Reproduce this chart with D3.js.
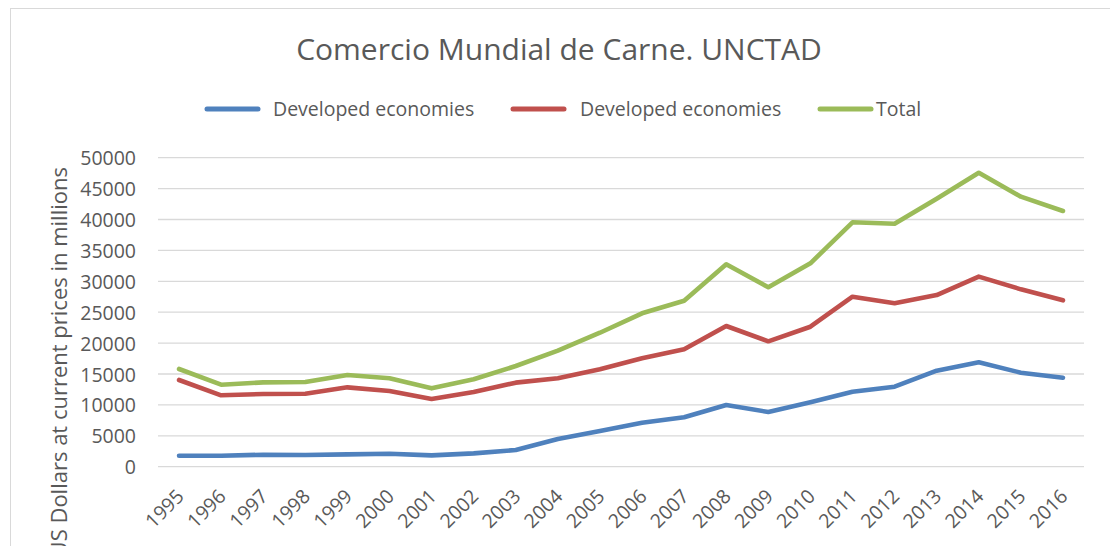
<!DOCTYPE html>
<html>
<head>
<meta charset="utf-8">
<script src="https://cdn.jsdelivr.net/npm/d3@7"></script>
<style>
  body { margin: 0; background: #fff; }
  text { font-family: "Open Sans", sans-serif; fill: #595959; }
</style>
</head>
<body>
<div id="chart"></div>
<script>
var years = ["1995", "1996", "1997", "1998", "1999", "2000", "2001", "2002", "2003", "2004", "2005",
             "2006", "2007", "2008", "2009", "2010", "2011", "2012", "2013", "2014", "2015", "2016"]

// blue line
var developed = [1780, 1780, 1940, 1890, 2000, 2100, 1840, 2160, 2700, 4480, 5780,
                 7120, 7990, 9980, 8850, 10420, 12140, 12950, 15540, 16890, 15210, 14400]

// red line (labelled the same in the original legend)
var developing = [14030, 11550, 11760, 11810, 12840, 12250, 10950, 12090, 13600, 14300, 15760,
                  17540, 19000, 22770, 20290, 22650, 27510, 26440, 27780, 30750, 28700, 26920]

// green line
var total = [15810, 13270, 13650, 13700, 14840, 14300, 12680, 14140, 16290, 18770, 21680,
             24820, 26860, 32750, 29030, 32910, 39550, 39320, 43370, 47570, 43690, 41380]

var seriesNames = ["Developed economies", "Developed economies", "Total"]
var yTicks = [0, 5000, 10000, 15000, 20000, 25000, 30000, 35000, 40000, 45000, 50000]

var title = "Comercio Mundial de Carne. UNCTAD"
var yTitle = "US Dollars at current prices in millions"

;(function () {

  var width = 1110,
      height = 546

  var svg = d3.select("#chart").append("svg")
      .attr("width", width)
      .attr("height", height)

  // chart frame, cropped on the right and bottom like the screenshot
  svg.append("rect")
    .attr("x", 10.5)
    .attr("y", 8.5)
    .attr("width", 1200)
    .attr("height", 600)
    .attr("fill", "#fff")
    .attr("stroke", "#d9d9d9")

  var xPositionScale = d3.scaleBand()
    .domain(years)
    .range([158, 1084])

  var yPositionScale = d3.scaleLinear()
    .domain([0, 50000])
    .range([466.7, 157.7])

  var colors = ["#4f81bd", "#c0504d", "#9bbb59"]
  var series = [developed, developing, total]

  // gridlines
  svg.selectAll(".grid")
    .data(yTicks)
    .enter().append("line")
    .attr("class", "grid")
    .attr("x1", 158)
    .attr("x2", 1084)
    .attr("y1", function (d) { return yPositionScale(d) })
    .attr("y2", function (d) { return yPositionScale(d) })
    .attr("stroke", "#d9d9d9")
    .attr("stroke-width", 1.3)

  // y axis labels
  var yAxis = d3.axisLeft(yPositionScale)
    .tickValues(yTicks)
    .tickSize(0)
    .tickPadding(0)
    .tickFormat(d3.format("d"))

  var yg = svg.append("g")
    .attr("class", "axis y-axis")
    .attr("transform", "translate(136,0)")
    .call(yAxis)
  yg.select(".domain").remove()
  yg.selectAll("text")
    .attr("x", 0)
    .attr("dy", "0.36em")
    .style("font-size", "19.5px")
    .attr("fill", "#595959")

  // x axis labels
  var xAxis = d3.axisBottom(xPositionScale)
    .tickSize(0)

  var xg = svg.append("g")
    .attr("class", "axis x-axis")
    .attr("transform", "translate(0,466.7)")
    .call(xAxis)
  xg.select(".domain").remove()
  xg.selectAll("text")
    .attr("x", 0)
    .attr("y", 0)
    .attr("dy", 0)
    .attr("text-anchor", "end")
    .attr("transform", "translate(6,31) rotate(-45)")
    .style("font-size", "19.5px")
    .attr("fill", "#595959")

  // lines
  var line = d3.line()
    .x(function (d, i) { return xPositionScale(years[i]) + xPositionScale.bandwidth() / 2 })
    .y(function (d) { return yPositionScale(d) })

  svg.selectAll(".series")
    .data(series)
    .enter().append("path")
    .attr("class", "series")
    .attr("d", line)
    .attr("fill", "none")
    .attr("stroke", function (d, i) { return colors[i] })
    .attr("stroke-width", 4.6)
    .attr("stroke-linejoin", "round")
    .attr("stroke-linecap", "round")

  // title
  svg.append("text")
    .attr("x", 559)
    .attr("y", 60)
    .attr("text-anchor", "middle")
    .style("font-size", "30px")
    .text(title)

  // y axis title
  svg.append("text")
    .attr("transform", "translate(67,167) rotate(-90)")
    .attr("text-anchor", "end")
    .style("font-size", "22px")
    .text(yTitle)

  // legend
  var legendX = [207, 513, 820]
  var legendTextX = [273, 580, 876]

  var legend = svg.selectAll(".legend")
    .data(seriesNames)
    .enter().append("g")
    .attr("class", "legend")

  legend.append("line")
    .attr("x1", function (d, i) { return legendX[i] })
    .attr("x2", function (d, i) { return legendX[i] + 51 })
    .attr("y1", 109)
    .attr("y2", 109)
    .attr("stroke", function (d, i) { return colors[i] })
    .attr("stroke-width", 5)
    .attr("stroke-linecap", "round")

  legend.append("text")
    .attr("x", function (d, i) { return legendTextX[i] })
    .attr("y", 116)
    .style("font-size", "19.5px")
    .text(function (d) { return d })

})()
</script>
</body>
</html>
